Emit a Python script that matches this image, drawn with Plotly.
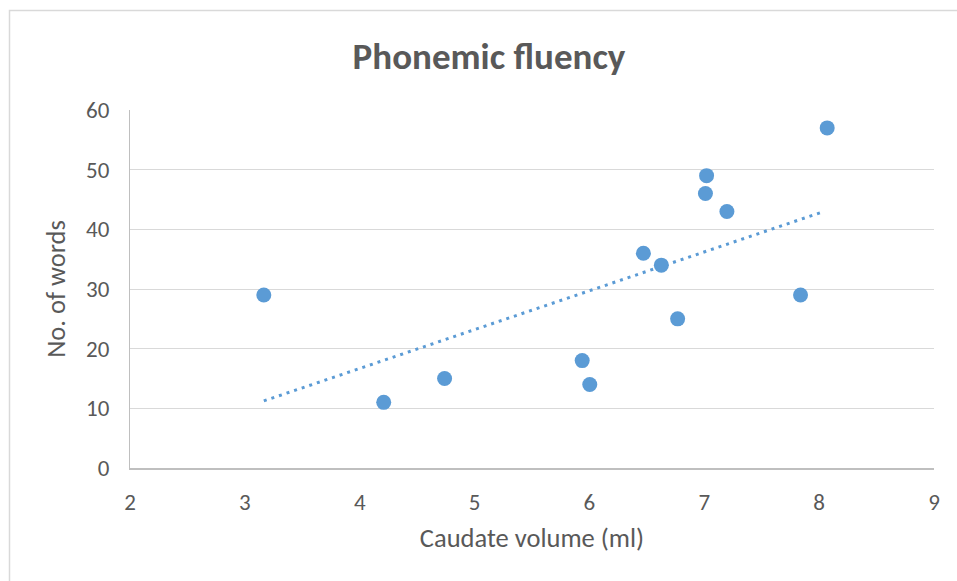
import numpy as np
import plotly.graph_objects as go

# Data
caudate_volume = [3.165, 4.209, 4.739, 5.937, 6.003, 6.47, 6.626, 6.768, 7.02, 7.01, 7.197, 7.838, 8.07]
num_words = [29, 11, 15, 18, 14, 36, 34, 25, 49, 46, 43, 29, 57]
x_ticks = [2, 3, 4, 5, 6, 7, 8, 9]
y_ticks = [0, 10, 20, 30, 40, 50, 60]
title_text = "Phonemic fluency"
x_title = "Caudate volume (ml)"
y_title = "No. of words"

# Linear trendline from the data
slope, intercept = np.polyfit(caudate_volume, num_words, 1)
tx = np.array([min(caudate_volume), max(caudate_volume) - 0.06])
ty = slope * tx + intercept

FONT = "Carlito, Lato, sans-serif"
TXT = "#595959"
BLUE = "#5b9bd5"

fig = go.Figure()
fig.add_trace(go.Scatter(x=tx, y=ty, mode="lines",
                         line=dict(color=BLUE, width=3, dash="3px,5px"),
                         hoverinfo="skip", showlegend=False))
fig.add_trace(go.Scatter(x=caudate_volume, y=num_words, mode="markers",
                         marker=dict(color=BLUE, size=15, line=dict(width=0)),
                         showlegend=False))

W, H = 957, 581
L, R, T, B = 130, 23, 110, 113
pw, ph = W - L - R, H - T - B

def px(xp):
    return (xp - L) / pw

def py(yp):
    return (H - B - yp) / ph

fig.add_shape(type="rect", xref="paper", yref="paper",
              x0=px(9.5), x1=px(965), y0=py(590), y1=py(10.5),
              line=dict(color="#d9d9d9", width=1.5), fillcolor="rgba(0,0,0,0)",
              layer="below")

fig.update_layout(
    width=W, height=H,
    margin=dict(l=L, r=R, t=T, b=B),
    paper_bgcolor="white", plot_bgcolor="white",
    font=dict(family=FONT, color=TXT, size=20),
    title=dict(text=title_text, xref="container", yref="container",
               x=489 / W, y=1 - 56 / H, xanchor="center", yanchor="middle",
               font=dict(family=FONT, size=37, color=TXT, weight="bold")),
    xaxis=dict(range=[2, 9], tickvals=x_ticks, showgrid=False, zeroline=False,
               showline=True, linecolor="#bfbfbf", linewidth=1.5,
               ticks="", ticklabelstandoff=13,
               tickfont=dict(size=23, color=TXT),
               title=dict(text=x_title, standoff=13, font=dict(size=26.5, color=TXT))),
    yaxis=dict(range=[0, 60], tickvals=y_ticks, showgrid=True, gridcolor="#d9d9d9",
               gridwidth=1.2, zeroline=False, showline=True, linecolor="#bfbfbf",
               linewidth=1.2, ticks="", ticklabelstandoff=15,
               tickfont=dict(size=23, color=TXT),
               title=dict(text=y_title, standoff=12, font=dict(size=26.5, color=TXT))),
)

fig.write_html("out.html", config={"displayModeBar": False},
               post_script="document.body.style.margin='0px';")
